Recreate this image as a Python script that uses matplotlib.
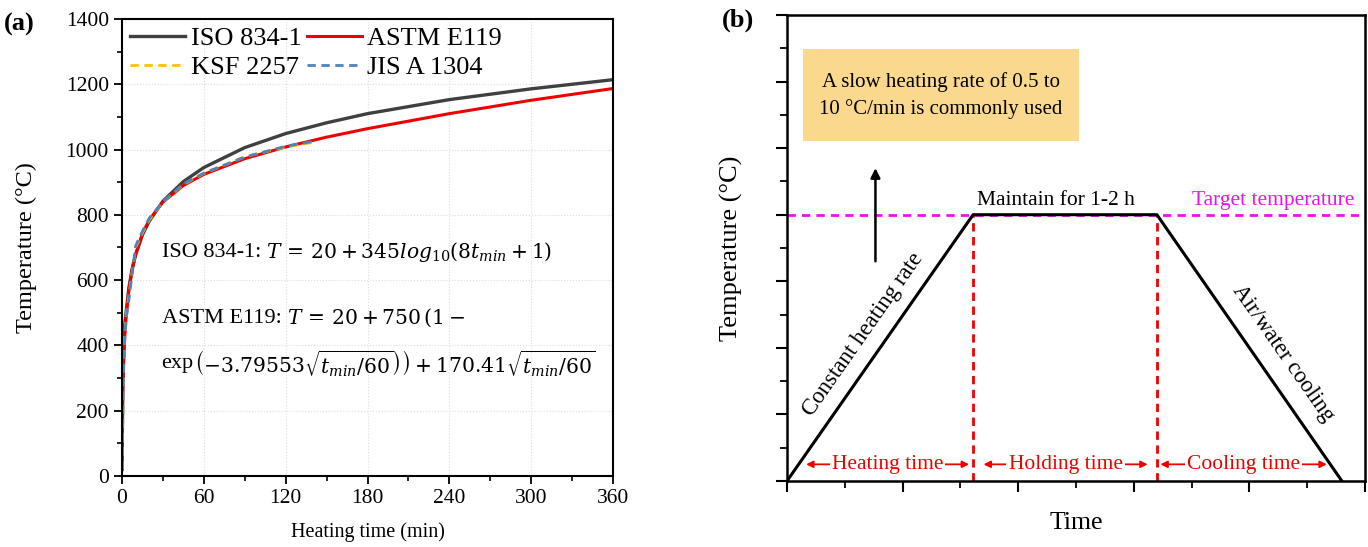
import matplotlib
matplotlib.use("Agg")
import matplotlib.pyplot as plt
from matplotlib.patches import Rectangle
from matplotlib.ticker import MultipleLocator

plt.rcParams["font.family"] = "serif"
plt.rcParams["font.serif"] = ["Liberation Serif", "DejaVu Serif"]
plt.rcParams["mathtext.fontset"] = "dejavuserif"

# ---- panel (a): standard fire curves ----
iso_t = [0, 0.5, 1, 2, 3, 5, 7.5, 10, 15, 20, 30, 45, 60, 90, 120, 150, 180, 240, 300, 360]
iso_T = [20, 261, 349, 465, 502, 576, 636, 678, 739, 781, 842, 902, 945, 1006, 1049, 1082, 1110, 1153, 1186, 1214]

astm_t = [0, 0.5, 1, 2, 3, 5, 7.5, 10, 15, 20, 30, 45, 60, 90, 120, 150, 180, 240, 300, 360]
astm_T = [20, 255, 333, 426, 487, 568, 634, 680, 743, 785, 839, 890, 924, 972, 1008, 1038, 1064, 1110, 1151, 1187]

ksf_t = [0, 1, 2, 3, 5, 10, 15, 20, 30, 45, 60, 90, 120, 140]
ksf_T = [20, 330, 430, 490, 550, 700, 745, 785, 840, 893, 927, 978, 1008, 1022]

jis_t = [0, 1, 2, 3, 5, 10, 15, 20, 30, 45, 60, 90, 120, 140]
jis_T = [20, 300, 420, 480, 540, 705, 750, 790, 840, 895, 928, 977, 1010, 1025]

# ---- panel (b): schematic heating profile ----
profile_time = [0, 3.22, 6.4, 9.6]
profile_temp = [0, 8, 8, 0]
target_temp = 8
phase_edges = [3.22, 6.4]
phase_labels = ["Heating time", "Holding time", "Cooling time"]
phase_spans = [(0.33, 3.15), (3.4, 6.24), (6.46, 9.34)]

fig = plt.figure(figsize=(13.68, 5.47), dpi=100)

# ------------------------------------------------------------ (a)
ax1 = fig.add_axes([0.0892, 0.1298, 0.3589, 0.8355])
l_iso, = ax1.plot(iso_t, iso_T, color="#404040", lw=2.4, label="ISO 834-1")
l_astm, = ax1.plot(astm_t, astm_T, color="#EE0000", lw=2.2, label="ASTM E119")
l_ksf, = ax1.plot(ksf_t, ksf_T, color="#FFC000", lw=2, ls=(0, (3, 2)), label="KSF 2257")
l_jis, = ax1.plot(jis_t, jis_T, color="#4F81BD", lw=2, ls=(0, (3, 2)), label="JIS A 1304")

ax1.set_xlim(0, 360)
ax1.set_ylim(0, 1400)
ax1.xaxis.set_major_locator(MultipleLocator(60))
ax1.xaxis.set_minor_locator(MultipleLocator(30))
ax1.yaxis.set_major_locator(MultipleLocator(200))
ax1.yaxis.set_minor_locator(MultipleLocator(100))
ax1.tick_params(which="major", direction="out", length=6, width=1.3, labelsize=15.5)
ax1.tick_params(which="minor", direction="out", length=3.5, width=1.2)
ax1.grid(True, which="major", color="#dddddd", ls=":", lw=0.8)
for s in ax1.spines.values():
    s.set_linewidth(1.5)
ax1.set_xlabel("Heating time (min)", fontsize=14.5, labelpad=10)
ax1.set_ylabel("Temperature (°C)", fontsize=17.5)
ax1.yaxis.set_label_coords(-0.173, 0.5)

# column-wise fill so rows read ISO/ASTM then KSF/JIS
ax1.legend([l_iso, l_ksf, l_astm, l_jis],
           ["ISO 834-1", "KSF 2257", "ASTM E119", "JIS A 1304"],
           ncol=2, loc="upper left", frameon=False,
           prop={"family": "Liberation Serif", "size": 19},
           handlelength=2.1, columnspacing=0.2, handletextpad=0.2,
           borderaxespad=0.1, borderpad=0.2, labelspacing=0.2)

# equations: plain words in the serif font, math part a bit smaller
eq_fs = 16
math_fs = 14.6
t1 = ax1.text(29, 686, "ISO 834-1:", fontsize=eq_fs, va="center")
ax1.annotate(r"$T\,=\,20+345log_{10}(8t_{min}+1)$", xy=(1, 0.5), xycoords=t1,
             xytext=(4, 0), textcoords="offset points", fontsize=math_fs, va="center")
t2 = ax1.text(29, 484, "ASTM E119:", fontsize=eq_fs, va="center")
ax1.annotate(r"$T\,=\,20+750\,\left(1-\right.$", xy=(1, 0.5), xycoords=t2,
             xytext=(4, 0), textcoords="offset points", fontsize=math_fs, va="center")
t3 = ax1.text(29, 346, "exp", fontsize=eq_fs, va="center")
ax1.annotate(r"$\left.\left(-3.79553\sqrt{t_{min}/60}\right)\right)+170.41\sqrt{t_{min}/60}$",
             xy=(1, 0.5), xycoords=t3, xytext=(0.5, 0), textcoords="offset points",
             fontsize=math_fs, va="center")

fig.text(0.003, 0.955, "(a)", fontsize=19, fontweight="bold", va="center")

# ------------------------------------------------------------ (b)
ax2 = fig.add_axes([0.5753, 0.1207, 0.4225, 0.8519])
ax2.set_xlim(0, 10)
ax2.set_ylim(0, 14)
ax2.xaxis.set_major_locator(MultipleLocator(2))
ax2.xaxis.set_minor_locator(MultipleLocator(1))
ax2.yaxis.set_major_locator(MultipleLocator(2))
ax2.yaxis.set_minor_locator(MultipleLocator(1))
ax2.tick_params(which="major", direction="out", length=8, width=1.5,
                labelbottom=False, labelleft=False)
ax2.tick_params(which="minor", direction="out", length=5, width=1.3)
for s in ax2.spines.values():
    s.set_linewidth(1.8)

ax2.axhline(target_temp, color="#EE11EE", lw=2, ls=(0, (3, 2.2)), zorder=1)
ax2.plot(profile_time, profile_temp, color="black", lw=2.2, zorder=3)
for xe in phase_edges:
    ax2.plot([xe, xe], [0, target_temp], color="#EE0000", lw=2, ls=(0, (3, 2)), zorder=2)

for lab, (x0, x1) in zip(phase_labels, phase_spans):
    ax2.annotate("", xy=(x0, 0.5), xytext=(x1, 0.5),
                 arrowprops=dict(arrowstyle="<|-|>", color="#EE0000", lw=1.3,
                                 mutation_scale=10, shrinkA=0, shrinkB=0))
    ax2.text((x0 + x1) / 2, 0.5, lab, color="#EE0000", fontsize=15.5,
             ha="center", va="center",
             bbox=dict(facecolor="white", edgecolor="none", pad=1.5))

ax2.add_patch(Rectangle((0.27, 10.2), 4.79, 2.77, facecolor="#FAD98E",
                        edgecolor="none", zorder=0))
ax2.text(2.66, 11.58, "A slow heating rate of 0.5 to\n10 °C/min is commonly used",
         fontsize=15, ha="center", va="center", linespacing=1.5)

ax2.annotate("", xy=(1.53, 9.4), xytext=(1.53, 6.6),
             arrowprops=dict(arrowstyle="-|>", color="black", lw=1.8,
                             mutation_scale=14, shrinkA=0, shrinkB=0))

ax2.text(4.65, 8.15, "Maintain for 1-2 h", fontsize=15.5, ha="center", va="bottom")
ax2.text(8.41, 8.15, "Target temperature", fontsize=15.5, color="#EE11EE",
         ha="center", va="bottom")
ax2.text(1.31, 4.4, "Constant heating rate", fontsize=16.5, rotation=55,
         rotation_mode="anchor", ha="center", va="center")
ax2.text(8.58, 3.85, "Air/water cooling", fontsize=16.5, rotation=-55,
         rotation_mode="anchor", ha="center", va="center")

ax2.set_xlabel("Time", fontsize=18.5, labelpad=14)
ax2.set_ylabel("Temperature (°C)", fontsize=19)
ax2.yaxis.set_label_coords(-0.077, 0.5)

fig.text(0.528, 0.962, "(b)", fontsize=19, fontweight="bold", va="center")

fig.savefig("out.png", dpi=100)
